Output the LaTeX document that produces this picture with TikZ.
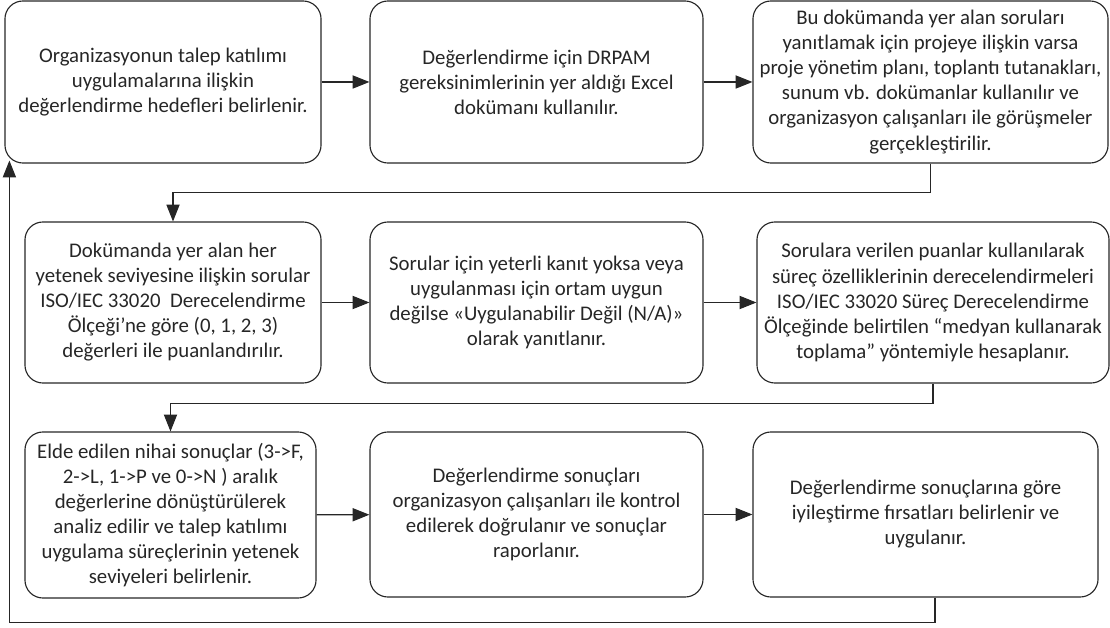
\documentclass[tikz,border=0pt]{standalone}
\usepackage{fontspec}
\setmainfont{Carlito}
\usetikzlibrary{arrows.meta, positioning, calc}

\begin{document}
\begin{tikzpicture}[x=0.025cm, y=-0.025cm,
  >={Triangle[length=0.42cm, width=0.33cm]},
  stepbox/.style={draw=black!85, line width=0.8pt, rounded corners=0.45cm,
    align=center, inner sep=0pt, text=black!85,
    font=\fontsize{14.8pt}{17.8pt}\selectfont},
  flow/.style={->, draw=black!85, line width=0.8pt}
]
  \useasboundingbox (0,0) rectangle (1110,628);

  % first row
  \node[stepbox, minimum width=7.9cm, minimum height=4.05cm] (b1) at (163,82)
    {Organizasyonun talep katılımı\\uygulamalarına ilişkin\\değerlendirme hedefleri belirlenir.};
  \node[stepbox, minimum width=8.325cm, minimum height=4.05cm] (b2) at (536.5,82)
    {Değerlendirme için DRPAM\\gereksinimlerinin yer aldığı Excel\\dokümanı kullanılır.};
  \node[stepbox, minimum width=8.875cm, minimum height=4.05cm] (b3) at (930.5,82)
    {Bu dokümanda yer alan soruları\\yanıtlamak için projeye ilişkin varsa\\proje yönetim planı, toplantı tutanakları,\\sunum vb. dokümanlar kullanılır ve\\organizasyon çalışanları ile görüşmeler\\gerçekleştirilir.};

  % second row
  \node[stepbox, minimum width=7.4cm, minimum height=4.025cm] (b4) at (173,302.5)
    {Dokümanda yer alan her\\yetenek seviyesine ilişkin sorular\\ISO/IEC 33020 \ Derecelendirme\\Ölçeği’ne göre (0, 1, 2, 3)\\değerleri ile puanlandırılır.};
  \node[stepbox, minimum width=8.325cm, minimum height=4.025cm] (b5) at (536.5,302.5)
    {Sorular için yeterli kanıt yoksa veya\\uygulanması için ortam uygun\\değilse «Uygulanabilir Değil (N/A)»\\olarak yanıtlanır.};
  \node[stepbox, minimum width=8.8cm, minimum height=4.025cm] (b6) at (933,302.5)
    {Sorulara verilen puanlar kullanılarak\\süreç özelliklerinin derecelendirmeleri\\ISO/IEC 33020 Süreç Derecelendirme\\Ölçeğinde belirtilen “medyan kullanarak\\toplama” yöntemiyle hesaplanır.};

  % third row
  \node[stepbox, minimum width=7.275cm, minimum height=4.15cm] (b7) at (170.5,515)
    {Elde edilen nihai sonuçlar (3->F,\\2->L, 1->P ve 0->N ) aralık\\değerlerine dönüştürülerek\\analiz edilir ve talep katılımı\\uygulama süreçlerinin yetenek\\seviyeleri belirlenir.};
  \node[stepbox, minimum width=8.325cm, minimum height=4.125cm] (b8) at (536.5,514.5)
    {Değerlendirme sonuçları\\organizasyon çalışanları ile kontrol\\edilerek doğrulanır ve sonuçlar\\raporlanır.};
  \node[stepbox, minimum width=8.625cm, minimum height=4.125cm] (b9) at (925.5,514.5)
    {Değerlendirme sonuçlarına göre\\iyileştirme fırsatları belirlenir ve\\uygulanır.};

  \draw[flow] (b1) -- (b2);
  \draw[flow] (b2) -- (b3);
  \draw[flow] (b3.south) -- ++(0,29) -| (b4.north);
  \draw[flow] (b4) -- (b5);
  \draw[flow] (b5) -- (b6);
  \draw[flow] (b6.south) -- ++(0,20) -| (b7.north);
  \draw[flow] (b7) -- (b8);
  \draw[flow] (b8) -- (b9);

  % back to the start
  \coordinate (loopout) at ($(b9.south)+(9.5,0)$);
  \coordinate (loopin) at ($(b1.south west)+(5,-3)$);
  \draw[flow] (loopout) -- ++(0,25) -| (loopin);
\end{tikzpicture}
\end{document}
